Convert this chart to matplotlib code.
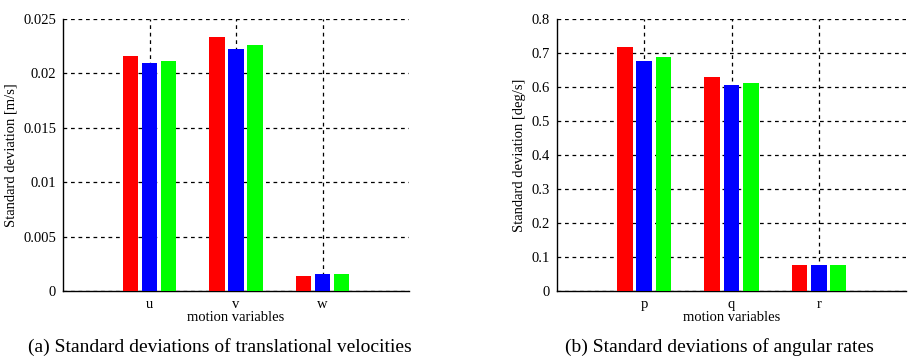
import numpy as np
import matplotlib.pyplot as plt

plt.rcParams['font.family'] = ['Liberation Serif', 'DejaVu Serif']

colors = ["#ff0000", "#0000ff", "#00ff00"]

# translational velocities
trans_vars = ["u", "v", "w"]
trans_red = [0.0216, 0.02335, 0.00138]
trans_blue = [0.02096, 0.02224, 0.00156]
trans_green = [0.02114, 0.02261, 0.00156]

# angular rates
ang_vars = ["p", "q", "r"]
ang_red = [0.7176, 0.629, 0.0765]
ang_blue = [0.676, 0.606, 0.0765]
ang_green = [0.688, 0.612, 0.0765]

W, H = 919, 362
fig = plt.figure(figsize=(W / 100, H / 100), dpi=100)


def make_axes(l, t, r, b):
    return fig.add_axes([l / W, 1 - b / H, (r - l) / W, (b - t) / H])


def draw(ax, names, series, ymax, yticks, ylabel):
    x = np.arange(1, len(names) + 1)
    width = 0.18
    offs = [-0.22, 0.0, 0.22]
    for vals, off, c in zip(series, offs, colors):
        ax.bar(x + off, vals, width, color=c, zorder=3)
    ax.set_xlim(0, 4)
    ax.set_ylim(0, ymax)
    ax.set_xticks(x)
    ax.set_xticklabels(names)
    ax.set_yticks(yticks)
    ax.set_yticklabels([("%g" % v) for v in yticks])
    ax.grid(True, color="black", linestyle=(0, (3, 3)), linewidth=0.9, zorder=0)
    for s in ["top", "right"]:
        ax.spines[s].set_visible(False)
    ax.spines["left"].set_linewidth(1.0)
    ax.spines["bottom"].set_linewidth(1.0)
    ax.tick_params(length=0, labelsize=10.5, pad=5)
    ax.set_xlabel("motion variables", fontsize=10.5, labelpad=0)
    ax.set_ylabel(ylabel, fontsize=10.5, labelpad=4)


ax1 = make_axes(63, 19, 409, 291)
draw(ax1, trans_vars, [trans_red, trans_blue, trans_green], 0.025,
     [0, 0.005, 0.01, 0.015, 0.02, 0.025], "Standard deviation [m/s]")

ax2 = make_axes(557, 19, 906, 291)
draw(ax2, ang_vars, [ang_red, ang_blue, ang_green], 0.8,
     [0, 0.1, 0.2, 0.3, 0.4, 0.5, 0.6, 0.7, 0.8], "Standard deviation [deg/s]")

fig.text(220 / W, 1 - 347 / H, "(a) Standard deviations of translational velocities",
         ha="center", va="center", fontsize=14)
fig.text(719 / W, 1 - 347 / H, "(b) Standard deviations of angular rates",
         ha="center", va="center", fontsize=14)

fig.savefig("out.png", dpi=100)
